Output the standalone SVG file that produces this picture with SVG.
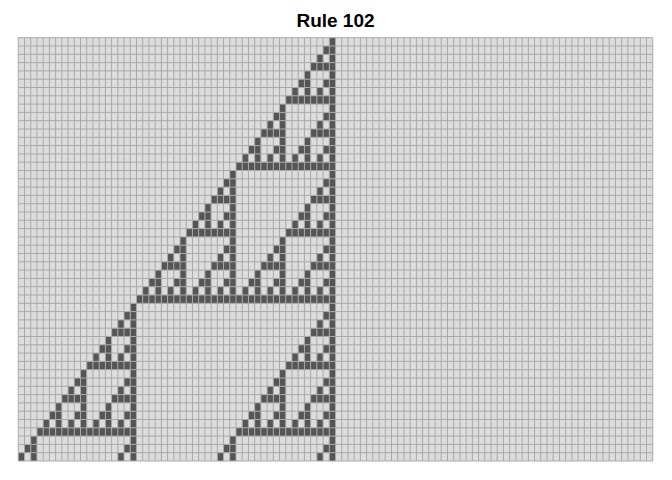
<svg xmlns="http://www.w3.org/2000/svg" width="672" height="480" viewBox="0 0 672 480">
<style>
.title{font-family:"Liberation Sans",Arial,sans-serif;font-weight:bold;font-size:19px;fill:#000}
.grid{fill:none;stroke:#a9a9a9;stroke-width:1}
</style>
<defs>
<rect id="t0" width="1" height="1"/>
<g id="t1"><use href="#t0"/><use href="#t0" y="1"/><use href="#t0" x="-1" y="1"/></g>
<g id="t2"><use href="#t1"/><use href="#t1" y="2"/><use href="#t1" x="-2" y="2"/></g>
<g id="t3"><use href="#t2"/><use href="#t2" y="4"/><use href="#t2" x="-4" y="4"/></g>
<g id="t4"><use href="#t3"/><use href="#t3" y="8"/><use href="#t3" x="-8" y="8"/></g>
<g id="t5"><use href="#t4"/><use href="#t4" y="16"/><use href="#t4" x="-16" y="16"/></g>
<g id="r3"><use href="#t1"/><use href="#t0" y="2"/><use href="#t0" x="-2" y="2"/></g>
<g id="p19"><use href="#t4"/><use href="#r3" y="16"/><use href="#r3" x="-16" y="16"/></g>
</defs>
<rect width="672" height="480" fill="#ffffff"/>
<text id="title" class="title" x="335.5" y="26.5" text-anchor="middle">Rule 102</text>
<g id="automaton">
<rect x="18.3" y="37.7" width="634.44" height="423.3" fill="#dddddd"/>
<g id="cells" fill="#555555" transform="translate(329.3 37.7) scale(6.22 8.3)">
<use href="#t5"/>
<use href="#p19" y="32"/>
<use href="#p19" x="-32" y="32"/>
</g>
<path class="grid" d="M18.3 37.7v423.3
m6.22-423.3v423.3m6.22-423.3v423.3m6.22-423.3v423.3m6.22-423.3v423.3m6.22-423.3v423.3m6.22-423.3v423.3m6.22-423.3v423.3m6.22-423.3v423.3m6.22-423.3v423.3m6.22-423.3v423.3
m6.22-423.3v423.3m6.22-423.3v423.3m6.22-423.3v423.3m6.22-423.3v423.3m6.22-423.3v423.3m6.22-423.3v423.3m6.22-423.3v423.3m6.22-423.3v423.3m6.22-423.3v423.3m6.22-423.3v423.3
m6.22-423.3v423.3m6.22-423.3v423.3m6.22-423.3v423.3m6.22-423.3v423.3m6.22-423.3v423.3m6.22-423.3v423.3m6.22-423.3v423.3m6.22-423.3v423.3m6.22-423.3v423.3m6.22-423.3v423.3
m6.22-423.3v423.3m6.22-423.3v423.3m6.22-423.3v423.3m6.22-423.3v423.3m6.22-423.3v423.3m6.22-423.3v423.3m6.22-423.3v423.3m6.22-423.3v423.3m6.22-423.3v423.3m6.22-423.3v423.3
m6.22-423.3v423.3m6.22-423.3v423.3m6.22-423.3v423.3m6.22-423.3v423.3m6.22-423.3v423.3m6.22-423.3v423.3m6.22-423.3v423.3m6.22-423.3v423.3m6.22-423.3v423.3m6.22-423.3v423.3
m6.22-423.3v423.3m6.22-423.3v423.3m6.22-423.3v423.3m6.22-423.3v423.3m6.22-423.3v423.3m6.22-423.3v423.3m6.22-423.3v423.3m6.22-423.3v423.3m6.22-423.3v423.3m6.22-423.3v423.3
m6.22-423.3v423.3m6.22-423.3v423.3m6.22-423.3v423.3m6.22-423.3v423.3m6.22-423.3v423.3m6.22-423.3v423.3m6.22-423.3v423.3m6.22-423.3v423.3m6.22-423.3v423.3m6.22-423.3v423.3
m6.22-423.3v423.3m6.22-423.3v423.3m6.22-423.3v423.3m6.22-423.3v423.3m6.22-423.3v423.3m6.22-423.3v423.3m6.22-423.3v423.3m6.22-423.3v423.3m6.22-423.3v423.3m6.22-423.3v423.3
m6.22-423.3v423.3m6.22-423.3v423.3m6.22-423.3v423.3m6.22-423.3v423.3m6.22-423.3v423.3m6.22-423.3v423.3m6.22-423.3v423.3m6.22-423.3v423.3m6.22-423.3v423.3m6.22-423.3v423.3
m6.22-423.3v423.3m6.22-423.3v423.3m6.22-423.3v423.3m6.22-423.3v423.3m6.22-423.3v423.3m6.22-423.3v423.3m6.22-423.3v423.3m6.22-423.3v423.3m6.22-423.3v423.3m6.22-423.3v423.3
m6.22-423.3v423.3m6.22-423.3v423.3
M18.3 37.7h634.44
m-634.44 8.3h634.44m-634.44 8.3h634.44m-634.44 8.3h634.44m-634.44 8.3h634.44m-634.44 8.3h634.44m-634.44 8.3h634.44m-634.44 8.3h634.44m-634.44 8.3h634.44m-634.44 8.3h634.44m-634.44 8.3h634.44
m-634.44 8.3h634.44m-634.44 8.3h634.44m-634.44 8.3h634.44m-634.44 8.3h634.44m-634.44 8.3h634.44m-634.44 8.3h634.44m-634.44 8.3h634.44m-634.44 8.3h634.44m-634.44 8.3h634.44m-634.44 8.3h634.44
m-634.44 8.3h634.44m-634.44 8.3h634.44m-634.44 8.3h634.44m-634.44 8.3h634.44m-634.44 8.3h634.44m-634.44 8.3h634.44m-634.44 8.3h634.44m-634.44 8.3h634.44m-634.44 8.3h634.44m-634.44 8.3h634.44
m-634.44 8.3h634.44m-634.44 8.3h634.44m-634.44 8.3h634.44m-634.44 8.3h634.44m-634.44 8.3h634.44m-634.44 8.3h634.44m-634.44 8.3h634.44m-634.44 8.3h634.44m-634.44 8.3h634.44m-634.44 8.3h634.44
m-634.44 8.3h634.44m-634.44 8.3h634.44m-634.44 8.3h634.44m-634.44 8.3h634.44m-634.44 8.3h634.44m-634.44 8.3h634.44m-634.44 8.3h634.44m-634.44 8.3h634.44m-634.44 8.3h634.44m-634.44 8.3h634.44
m-634.44 8.3h634.44"/>
</g>
</svg>
